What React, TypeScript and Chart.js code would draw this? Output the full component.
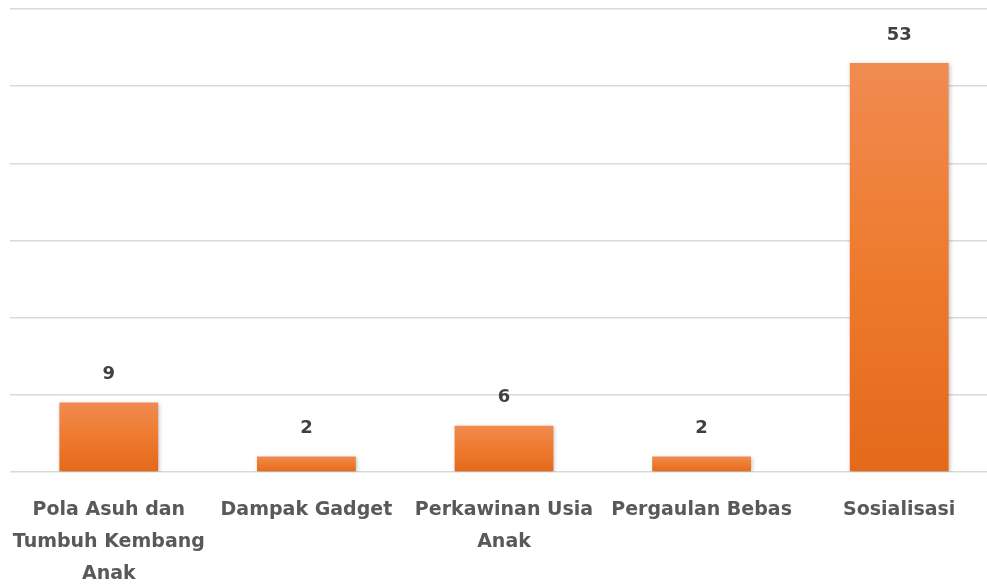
import React, { useEffect, useRef } from "react";
import { Chart, registerables } from "chart.js";

Chart.register(...registerables);

const categories: string[][] = [
  ["Pola Asuh dan", "Tumbuh Kembang", "Anak"],
  ["Dampak Gadget"],
  ["Perkawinan Usia", "Anak"],
  ["Pergaulan Bebas"],
  ["Sosialisasi"],
];
const values: number[] = [9, 2, 6, 2, 53];
const yMax = 60;
const yStep = 10;

const FONT = "'Comic Sans MS', 'DejaVu Sans', sans-serif";

const valueLabels = {
  id: "valueLabels",
  afterDatasetsDraw(chart: any) {
    const ctx = chart.ctx;
    const meta = chart.getDatasetMeta(0);
    ctx.save();
    ctx.font = `bold 18px ${FONT}`;
    ctx.fillStyle = "#404040";
    ctx.textAlign = "center";
    ctx.textBaseline = "middle";
    meta.data.forEach((bar: any, i: number) => {
      ctx.fillText(String(values[i]), bar.x, bar.y - 28);
    });
    ctx.restore();
  },
};

const barShadow = {
  id: "barShadow",
  beforeDatasetsDraw(chart: any) {
    const ctx = chart.ctx;
    ctx.save();
    ctx.shadowColor = "rgba(0,0,0,0.25)";
    ctx.shadowBlur = 4;
    ctx.shadowOffsetX = 1;
    ctx.shadowOffsetY = 1;
  },
  afterDatasetsDraw(chart: any) {
    chart.ctx.restore();
  },
};

const CANVAS_W = 998;

export default function App() {
  const ref = useRef<HTMLCanvasElement | null>(null);
  useEffect(() => {
    document.body.style.margin = "0";
    if (!ref.current) return;
    const chart = new Chart(ref.current, {
      type: "bar",
      data: {
        labels: categories,
        datasets: [
          {
            data: values,
            backgroundColor: (c: any) => {
              const ch = c.chart;
              const y = ch.scales?.y;
              if (!y || c.raw === undefined) return "#EC7A30";
              const top = y.getPixelForValue(c.raw);
              const bottom = y.getPixelForValue(0);
              if (!isFinite(top) || !isFinite(bottom) || top === bottom) return "#EC7A30";
              const g = ch.ctx.createLinearGradient(0, top, 0, bottom);
              g.addColorStop(0, "#F08B51");
              g.addColorStop(0.5, "#EE7A2E");
              g.addColorStop(1, "#E4691B");
              return g;
            },
            borderWidth: 0,
            barPercentage: 0.5,
            categoryPercentage: 1,
          },
        ],
      },
      options: {
        animation: false,
        responsive: false,
        maintainAspectRatio: false,
        layout: { padding: { left: 10, right: 0, top: 9, bottom: 0 } },
        plugins: { legend: { display: false }, tooltip: { enabled: false } },
        scales: {
          x: {
            grid: { display: false },
            border: { display: false },
            ticks: {
              color: "#595959",
              font: { family: FONT, size: 19, weight: "bold", lineHeight: "32px" },
              padding: 14,
              maxRotation: 0,
              autoSkip: false,
            },
            afterFit: (s: any) => {
              s.height = 113;
              s.paddingLeft = 0;
              s.paddingRight = 0;
            },
          },
          y: {
            min: 0,
            max: yMax,
            ticks: { display: false, stepSize: yStep },
            border: { display: false },
            grid: { color: "#D9D9D9", lineWidth: 1.5, drawTicks: false },
          },
        },
      },
      plugins: [barShadow, valueLabels],
    });
    return () => chart.destroy();
  }, []);
  return (
    <div style={{ position: "absolute", left: 0, top: 0, width: 987, height: 585, overflow: "hidden", background: "#fff" }}>
      <canvas ref={ref} width={CANVAS_W} height={585} style={{ width: CANVAS_W, height: 585 }} />
    </div>
  );
}
